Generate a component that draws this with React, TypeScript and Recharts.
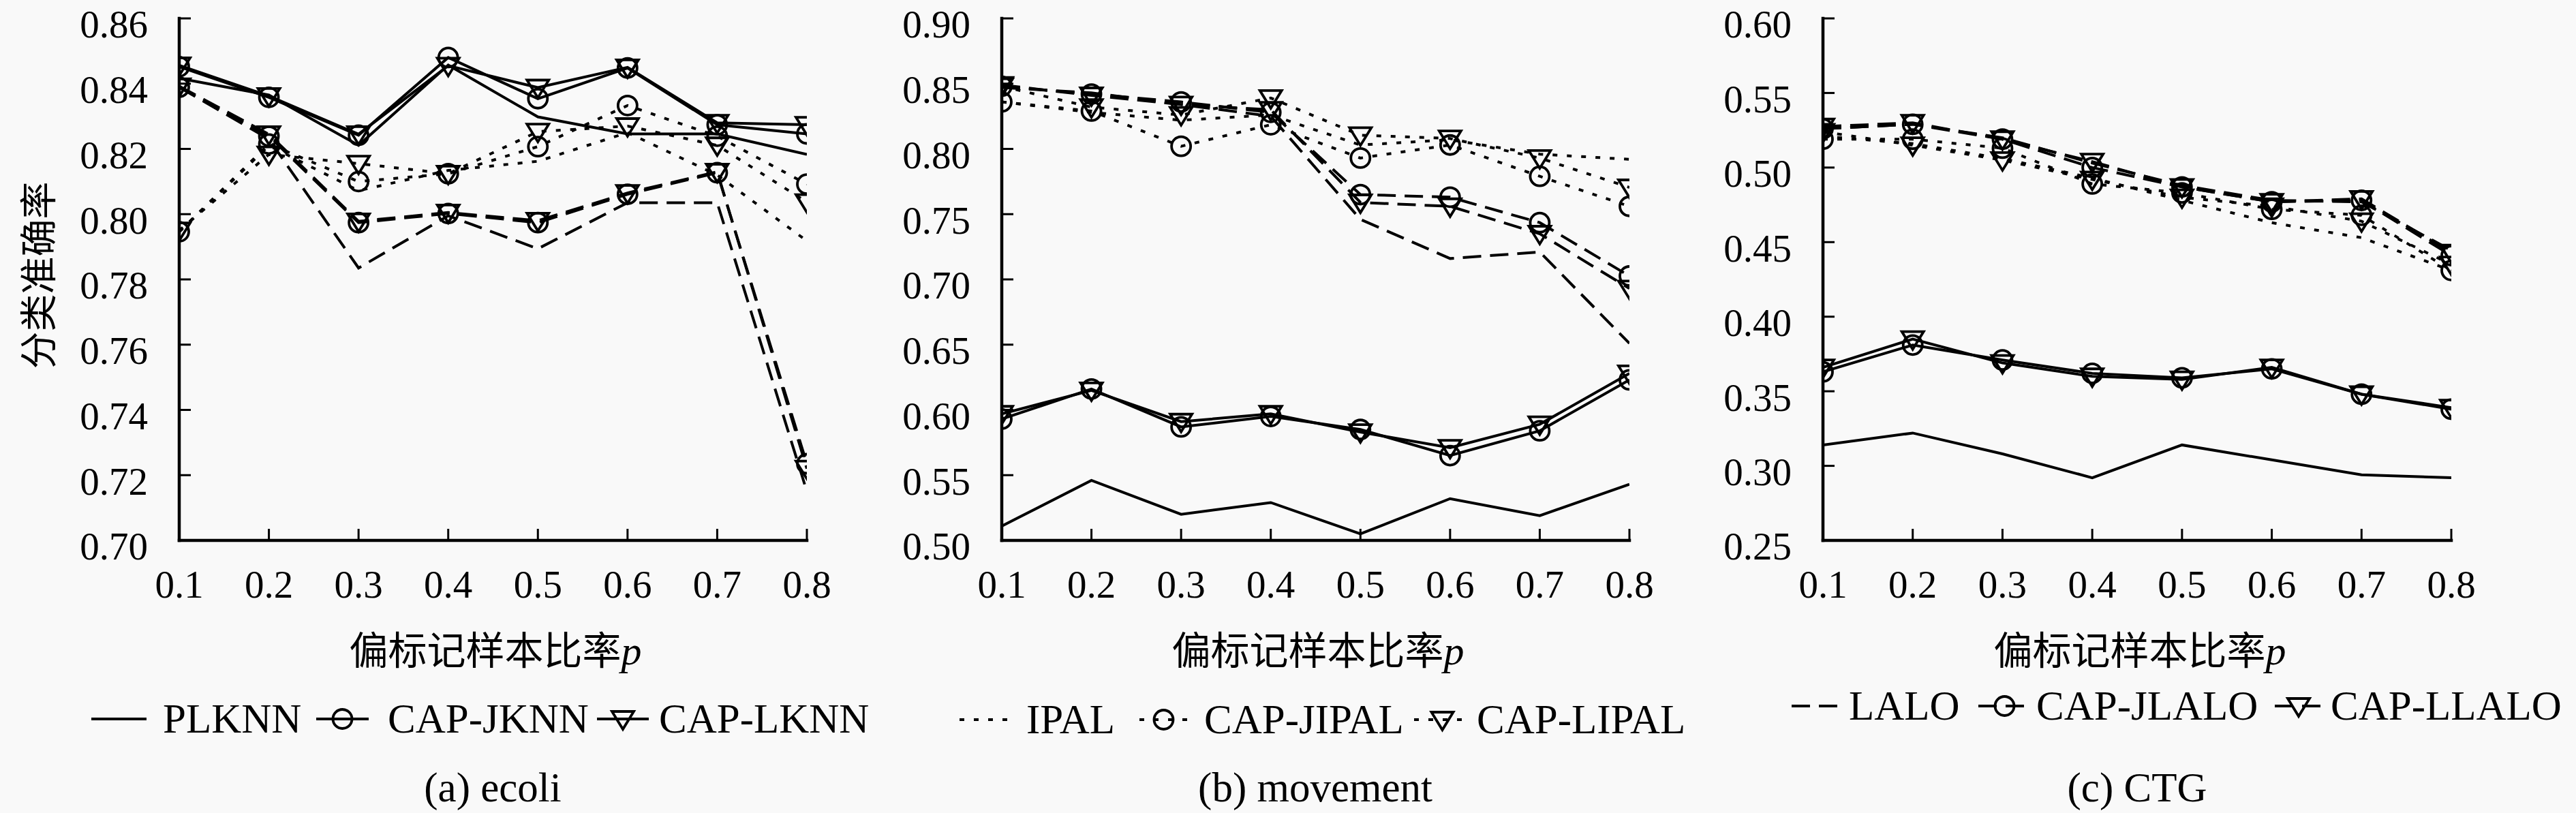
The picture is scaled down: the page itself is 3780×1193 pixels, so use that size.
import React from 'react';
import { LineChart, Line, XAxis, YAxis } from 'recharts';

// ---------- data ----------
const pValues = [0.1, 0.2, 0.3, 0.4, 0.5, 0.6, 0.7, 0.8];
const xTickLabels = ['0.1', '0.2', '0.3', '0.4', '0.5', '0.6', '0.7', '0.8'];

const ecoliTicks = [0.7, 0.72, 0.74, 0.76, 0.78, 0.8, 0.82, 0.84, 0.86];
const movementTicks = [0.5, 0.55, 0.6, 0.65, 0.7, 0.75, 0.8, 0.85, 0.9];
const ctgTicks = [0.25, 0.3, 0.35, 0.4, 0.45, 0.5, 0.55, 0.6];

// (a) ecoli
const ecoliPLKNN = [0.8416, 0.8365, 0.8211, 0.8457, 0.8298, 0.8246, 0.8246, 0.8183];
const ecoliCAPJKNN = [0.8452, 0.8358, 0.8242, 0.848, 0.8354, 0.8448, 0.8274, 0.8246];
const ecoliCAPLKNN = [0.8456, 0.8362, 0.8245, 0.8455, 0.8388, 0.845, 0.828, 0.8274];
const ecoliIPAL = [0.7946, 0.821, 0.8072, 0.8134, 0.8162, 0.825, 0.812, 0.7918];
const ecoliCAPJIPAL = [0.7946, 0.8215, 0.81, 0.8124, 0.8207, 0.8333, 0.8239, 0.8092];
const ecoliCAPLIPAL = [0.795, 0.8183, 0.8155, 0.8124, 0.8253, 0.827, 0.8211, 0.8037];
const ecoliLALO = [0.8389, 0.823, 0.7835, 0.7995, 0.7894, 0.8035, 0.8035, 0.715];
const ecoliCAPJLALO = [0.8389, 0.8239, 0.7974, 0.8002, 0.7974, 0.8061, 0.8127, 0.7235];
const ecoliCAPLLALO = [0.8392, 0.8245, 0.7978, 0.8005, 0.798, 0.8065, 0.813, 0.722];

// (b) movement
const movementPLKNN = [0.511, 0.546, 0.52, 0.529, 0.505, 0.532, 0.519, 0.543];
const movementCAPJKNN = [0.593, 0.616, 0.587, 0.595, 0.585, 0.565, 0.584, 0.623];
const movementCAPLKNN = [0.597, 0.615, 0.591, 0.597, 0.583, 0.571, 0.589, 0.628];
const movementIPAL = [0.836, 0.828, 0.822, 0.826, 0.803, 0.807, 0.796, 0.792];
const movementCAPJIPAL = [0.836, 0.829, 0.802, 0.8185, 0.793, 0.803, 0.779, 0.756];
const movementCAPLIPAL = [0.848, 0.832, 0.826, 0.839, 0.8105, 0.808, 0.793, 0.7705];
const movementLALO = [0.847, 0.843, 0.834, 0.825, 0.746, 0.716, 0.721, 0.651];
const movementCAPJLALO = [0.848, 0.842, 0.836, 0.828, 0.765, 0.763, 0.7435, 0.7026];
const movementCAPLLALO = [0.849, 0.841, 0.834, 0.83, 0.759, 0.756, 0.735, 0.693];

// (c) CTG
const ctgPLKNN = [0.314, 0.322, 0.308, 0.292, 0.314, 0.304, 0.294, 0.292];
const ctgCAPJKNN = [0.363, 0.381, 0.371, 0.362, 0.359, 0.365, 0.348, 0.338];
const ctgCAPLKNN = [0.366, 0.385, 0.369, 0.36, 0.358, 0.366, 0.348, 0.339];
const ctgIPAL = [0.521, 0.516, 0.506, 0.493, 0.478, 0.463, 0.453, 0.431];
const ctgCAPJIPAL = [0.519, 0.519, 0.513, 0.489, 0.483, 0.472, 0.468, 0.431];
const ctgCAPLIPAL = [0.524, 0.515, 0.505, 0.492, 0.48, 0.474, 0.464, 0.435];
const ctgLALO = [0.526, 0.529, 0.52, 0.503, 0.488, 0.478, 0.477, 0.4445];
const ctgCAPJLALO = [0.526, 0.529, 0.519, 0.5, 0.487, 0.477, 0.478, 0.441];
const ctgCAPLLALO = [0.5275, 0.53, 0.519, 0.504, 0.487, 0.477, 0.479, 0.443];

const methodNames = [
  'PLKNN', 'CAP-JKNN', 'CAP-LKNN',
  'IPAL', 'CAP-JIPAL', 'CAP-LIPAL',
  'LALO', 'CAP-JLALO', 'CAP-LLALO',
];

const captions = ['(a) ecoli', '(b) movement', '(c) CTG'];
const xAxisTitle = '偏标记样本比率';
const yAxisTitle = '分类准确率';

// ---------- styles ----------
const SERIF = '"Liberation Serif", "Times New Roman", serif';
const CJK = '"Noto Sans CJK SC", "Noto Sans", sans-serif';
const BG = '#f9f9f9';

type MarkerKind = 'none' | 'circle' | 'triangle';
const DOTTED = '7 14';
const DASHED = '27 13';
const methodStyle: Record<string, { dash?: string; marker: MarkerKind }> = {
  'PLKNN': { marker: 'none' },
  'CAP-JKNN': { marker: 'circle' },
  'CAP-LKNN': { marker: 'triangle' },
  'IPAL': { dash: DOTTED, marker: 'none' },
  'CAP-JIPAL': { dash: DOTTED, marker: 'circle' },
  'CAP-LIPAL': { dash: DOTTED, marker: 'triangle' },
  'LALO': { dash: DASHED, marker: 'none' },
  'CAP-JLALO': { dash: DASHED, marker: 'circle' },
  'CAP-LLALO': { dash: DASHED, marker: 'triangle' },
};

function buildRows(series: number[][]) {
  return pValues.map((p, i) => {
    const row: Record<string, number> = { p };
    methodNames.forEach((m, k) => {
      row[m] = series[k][i];
    });
    return row;
  });
}

const ecoliRows = buildRows([
  ecoliPLKNN, ecoliCAPJKNN, ecoliCAPLKNN,
  ecoliIPAL, ecoliCAPJIPAL, ecoliCAPLIPAL,
  ecoliLALO, ecoliCAPJLALO, ecoliCAPLLALO,
]);
const movementRows = buildRows([
  movementPLKNN, movementCAPJKNN, movementCAPLKNN,
  movementIPAL, movementCAPJIPAL, movementCAPLIPAL,
  movementLALO, movementCAPJLALO, movementCAPLLALO,
]);
const ctgRows = buildRows([
  ctgPLKNN, ctgCAPJKNN, ctgCAPLKNN,
  ctgIPAL, ctgCAPJIPAL, ctgCAPLIPAL,
  ctgLALO, ctgCAPJLALO, ctgCAPLLALO,
]);

// ---------- markers ----------
function MarkerShape({ kind, cx, cy }: { kind: MarkerKind; cx: number; cy: number }) {
  if (kind === 'circle') {
    return <circle cx={cx} cy={cy} r={14} fill="none" stroke="#000" strokeWidth={3.8} />;
  }
  if (kind === 'triangle') {
    const pts = `${cx - 16},${cy - 11} ${cx + 16},${cy - 11} ${cx},${cy + 15}`;
    return <polygon points={pts} fill="none" stroke="#000" strokeWidth={3.8} strokeLinejoin="miter" />;
  }
  return null;
}

function makeDot(kind: MarkerKind) {
  return (props: any) => {
    const { cx, cy, index } = props;
    if (cx == null || cy == null) return <g key={`d-${index}`} />;
    return (
      <g key={`d-${index}`}>
        <MarkerShape kind={kind} cx={cx} cy={cy} />
      </g>
    );
  };
}

// ---------- ticks ----------
const TICK_FONT = 57;

function XTick(props: any) {
  const { x, y, payload, index } = props;
  const v = payload?.value as number;
  const i = pValues.indexOf(v);
  const label = i >= 0 ? xTickLabels[i] : Number(v).toFixed(1);
  return (
    <text
      key={`xt-${index}`}
      x={x}
      y={y + TICK_FONT * 0.71}
      textAnchor="middle"
      fontFamily={SERIF}
      fontSize={TICK_FONT}
      fill="#000"
    >
      {label}
    </text>
  );
}

function YTick(props: any) {
  const { x, y, payload, index } = props;
  const v = payload?.value as number;
  return (
    <text
      key={`yt-${index}`}
      x={x}
      y={y + 9 + TICK_FONT * 0.34}
      textAnchor="end"
      fontFamily={SERIF}
      fontSize={TICK_FONT}
      fill="#000"
    >
      {Number(v).toFixed(2)}
    </text>
  );
}

// ---------- panel ----------
const CHART_W = 1260;
const CHART_H = 1193;
const PLOT_TOP = 27;
const PLOT_BOTTOM = 793;
const Y_AXIS_W = 150;
const X_AXIS_H = 100;

type PanelProps = {
  left: number;
  plotLeft: number; // local coords
  plotRight: number;
  rows: Record<string, number>[];
  yDomain: [number, number];
  yTicks: number[];
};

const axisLineStyle = { stroke: '#000', strokeWidth: 4.5, strokeLinecap: 'square' as const };
const tickLineStyle = { stroke: '#000', strokeWidth: 3 };

function Panel({ left, plotLeft, plotRight, rows, yDomain, yTicks }: PanelProps) {
  return (
    <div style={{ position: 'absolute', left, top: 0, width: CHART_W, height: CHART_H }}>
      <LineChart
        width={CHART_W}
        height={CHART_H}
        data={rows}
        margin={{
          top: PLOT_TOP,
          right: CHART_W - plotRight,
          bottom: CHART_H - PLOT_BOTTOM - X_AXIS_H,
          left: plotLeft - Y_AXIS_W,
        }}
      >
        <XAxis
          xAxisId="b"
          dataKey="p"
          type="number"
          orientation="bottom"
          domain={[0.1, 0.8]}
          allowDataOverflow
          ticks={pValues}
          interval={0}
          height={X_AXIS_H}
          tickSize={-17}
          tickMargin={61}
          tick={<XTick />}
          tickLine={tickLineStyle}
          axisLine={axisLineStyle}
        />
        <XAxis
          xAxisId="t"
          dataKey="p"
          type="number"
          orientation="top"
          domain={[0.1, 0.8]}
          allowDataOverflow
          ticks={pValues}
          interval={0}
          height={0}
          tick={false}
          tickSize={-17}
          tickLine={tickLineStyle}
          axisLine={axisLineStyle}
        />
        <YAxis
          yAxisId="l"
          type="number"
          orientation="left"
          domain={yDomain}
          allowDataOverflow
          ticks={yTicks}
          interval={0}
          width={Y_AXIS_W}
          tickSize={-17}
          tickMargin={63}
          tick={<YTick />}
          tickLine={tickLineStyle}
          axisLine={axisLineStyle}
        />
        <YAxis
          yAxisId="r"
          type="number"
          orientation="right"
          domain={yDomain}
          allowDataOverflow
          ticks={yTicks}
          interval={0}
          width={0}
          tick={false}
          tickSize={-17}
          tickLine={tickLineStyle}
          axisLine={axisLineStyle}
        />
        {methodNames.map((m) => {
          const st = methodStyle[m];
          return (
            <Line
              key={m}
              xAxisId="b"
              yAxisId="l"
              dataKey={m}
              name={m}
              type="linear"
              stroke="#000"
              strokeWidth={4}
              strokeDasharray={st.dash}
              dot={st.marker === 'none' ? false : makeDot(st.marker)}
              activeDot={false}
              isAnimationActive={false}
            />
          );
        })}
      </LineChart>
    </div>
  );
}

// ---------- legends / labels overlay ----------
type LegendItem = { method: string; x1: number; x2: number; tx: number };
const legendRows: { y: number; items: LegendItem[] }[] = [
  {
    y: 1055,
    items: [
      { method: 'PLKNN', x1: 134, x2: 215, tx: 239 },
      { method: 'CAP-JKNN', x1: 464, x2: 541, tx: 569 },
      { method: 'CAP-LKNN', x1: 876, x2: 952, tx: 967 },
    ],
  },
  {
    y: 1056,
    items: [
      { method: 'IPAL', x1: 1408, x2: 1482, tx: 1506 },
      { method: 'CAP-JIPAL', x1: 1672, x2: 1743, tx: 1767 },
      { method: 'CAP-LIPAL', x1: 2075, x2: 2158, tx: 2167 },
    ],
  },
  {
    y: 1036,
    items: [
      { method: 'LALO', x1: 2629, x2: 2700, tx: 2713 },
      { method: 'CAP-JLALO', x1: 2903, x2: 2980, tx: 2988 },
      { method: 'CAP-LLALO', x1: 3338, x2: 3408, tx: 3420 },
    ],
  },
];

const panelCenters = [723, 1930, 3136];

function Overlay() {
  return (
    <svg
      width={3780}
      height={1193}
      style={{ position: 'absolute', left: 0, top: 0, pointerEvents: 'none' }}
    >
      {/* y axis title */}
      <text
        x={52}
        y={404}
        transform="rotate(-90 52 404)"
        textAnchor="middle"
        dominantBaseline="central"
        fontFamily={CJK}
        fontSize={55}
        fill="#000"
      >
        {yAxisTitle}
      </text>
      {/* x axis titles */}
      {panelCenters.map((cx, i) => (
        <text key={`xt-${i}`} x={cx + 4} y={975} textAnchor="middle" fill="#000">
          <tspan fontFamily={CJK} fontSize={57}>{xAxisTitle}</tspan>
          <tspan fontFamily={SERIF} fontStyle="italic" fontSize={60}>p</tspan>
        </text>
      ))}
      {/* legends */}
      {legendRows.map((row, r) => (
        <g key={`lg-${r}`}>
          {row.items.map((it) => {
            const st = methodStyle[it.method];
            return (
              <g key={it.method}>
                <line
                  x1={it.x1}
                  x2={it.x2}
                  y1={row.y}
                  y2={row.y}
                  stroke="#000"
                  strokeWidth={4}
                  strokeDasharray={st.dash}
                />
                <MarkerShape kind={st.marker} cx={(it.x1 + it.x2) / 2} cy={row.y} />
                <text x={it.tx} y={row.y + 20} fontFamily={SERIF} fontSize={61} fill="#000">
                  {it.method}
                </text>
              </g>
            );
          })}
        </g>
      ))}
      {/* captions */}
      {panelCenters.map((cx, i) => (
        <text
          key={`cap-${i}`}
          x={cx}
          y={1176}
          textAnchor="middle"
          fontFamily={SERIF}
          fontSize={61}
          fill="#000"
        >
          {captions[i]}
        </text>
      ))}
    </svg>
  );
}

export default function App() {
  return (
    <div
      style={{
        position: 'absolute',
        left: 0,
        top: 0,
        width: 3780,
        height: 1193,
        background: BG,
        overflow: 'hidden',
      }}
    >
      <Panel left={0} plotLeft={263} plotRight={1184} rows={ecoliRows} yDomain={[0.7, 0.86]} yTicks={ecoliTicks} />
      <Panel left={1260} plotLeft={210} plotRight={1131} rows={movementRows} yDomain={[0.5, 0.9]} yTicks={movementTicks} />
      <Panel left={2520} plotLeft={155} plotRight={1077} rows={ctgRows} yDomain={[0.25, 0.6]} yTicks={ctgTicks} />
      <Overlay />
    </div>
  );
}
